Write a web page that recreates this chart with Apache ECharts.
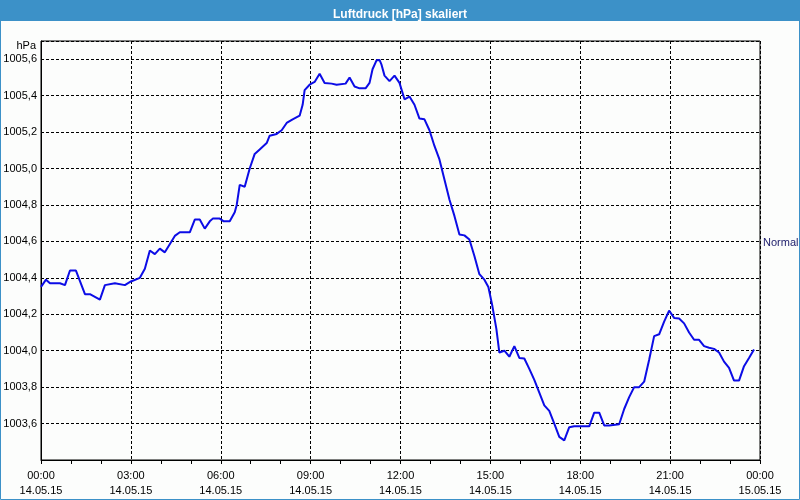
<!DOCTYPE html>
<html>
<head>
<meta charset="utf-8">
<script src="https://cdn.jsdelivr.net/npm/echarts@6/dist/echarts.min.js"></script>
<style>
html,body{margin:0;padding:0;background:#fcfdfc;}
#chart{width:800px;height:500px;}
</style>
</head>
<body>
<div id="chart"></div>
<script>
// Measurement times (14.05.15) and air pressure values in hPa
var times = ['00:00','00:10','00:18','00:38','00:48','00:58','01:10','01:28','01:38','01:58',
  '02:08','02:28','02:48','03:00','03:18','03:28','03:38','03:48','03:58','04:08',
  '04:28','04:38','04:58','05:08','05:18','05:28','05:38','05:44','05:58','06:06',
  '06:18','06:28','06:32','06:38','06:48','06:58','07:08','07:18','07:32','07:38',
  '07:52','08:02','08:12','08:24','08:38','08:44','08:48','08:58','09:08','09:18',
  '09:28','09:42','09:52','10:10','10:18','10:28','10:38','10:50','10:58','11:04',
  '11:12','11:18','11:22','11:28','11:38','11:48','11:58','12:08','12:18','12:28',
  '12:38','12:48','12:58','13:08','13:18','13:28','13:38','13:48','13:58','14:08',
  '14:18','14:28','14:38','14:48','14:56','15:04','15:12','15:18','15:28','15:38',
  '15:48','15:58','16:08','16:18','16:28','16:38','16:48','16:58','17:08','17:18',
  '17:28','17:38','17:48','18:18','18:28','18:38','18:48','18:58','19:18','19:28',
  '19:38','19:48','19:58','20:08','20:18','20:28','20:38','20:48','20:58','21:08',
  '21:18','21:28','21:38','21:48','21:58','22:08','22:18','22:28','22:38','22:48',
  '22:58','23:08','23:18','23:28','23:38','23:48'];
var pressure = [1004.35,1004.39,1004.37,1004.37,1004.36,1004.44,1004.44,1004.31,1004.31,1004.28,
  1004.36,1004.37,1004.36,1004.38,1004.40,1004.45,1004.55,1004.53,1004.56,1004.54,
  1004.63,1004.65,1004.65,1004.72,1004.72,1004.67,1004.71,1004.725,1004.725,1004.71,
  1004.71,1004.76,1004.80,1004.91,1004.90,1005.00,1005.08,1005.105,1005.14,1005.18,
  1005.19,1005.21,1005.25,1005.27,1005.29,1005.35,1005.43,1005.46,1005.475,1005.52,
  1005.47,1005.466,1005.46,1005.466,1005.50,1005.45,1005.44,1005.44,1005.47,1005.545,
  1005.594,1005.596,1005.57,1005.51,1005.48,1005.51,1005.47,1005.38,1005.395,1005.35,
  1005.274,1005.27,1005.21,1005.124,1005.05,1004.94,1004.83,1004.74,1004.638,1004.633,
  1004.61,1004.52,1004.42,1004.39,1004.35,1004.245,1004.12,1003.99,1004.00,1003.967,
  1004.025,1003.96,1003.957,1003.90,1003.84,1003.77,1003.70,1003.67,1003.60,1003.527,
  1003.508,1003.58,1003.585,1003.585,1003.66,1003.66,1003.59,1003.59,1003.596,1003.68,
  1003.745,1003.80,1003.80,1003.83,1003.95,1004.08,1004.09,1004.16,1004.22,1004.18,
  1004.177,1004.15,1004.10,1004.06,1004.06,1004.025,1004.016,1004.01,1003.99,1003.94,
  1003.906,1003.836,1003.836,1003.915,1003.96,1004.007];
var xTickTimes = ['00:00','03:00','06:00','09:00','12:00','15:00','18:00','21:00','00:00'];
var xTickDates = ['14.05.15','14.05.15','14.05.15','14.05.15','14.05.15','14.05.15','14.05.15','14.05.15','15.05.15'];
var normalLevel = [1004.59];
var titleText = 'Luftdruck [hPa] skaliert';

function toHours(t){var p=t.split(':');return +p[0]+(+p[1])/60;}
var seriesData = times.map(function(t,i){return [toHours(t), pressure[i]];});

var font = 'Liberation Sans';
var chart = echarts.init(document.getElementById('chart'), null, {renderer:'canvas'});
chart.setOption({
  backgroundColor:'#fcfdfc',
  animation:false,
  title:{text:titleText,left:'center',top:4,
    textStyle:{color:'#ffffff',fontSize:12,fontWeight:'bold',fontFamily:font}},
  graphic:[
    {type:'rect',z:-1,shape:{x:0,y:0,width:800,height:21},style:{fill:'#3c91c8'}},
    {type:'rect',z:-1,shape:{x:0.5,y:0.5,width:799,height:499},style:{fill:'none',stroke:'#3c91c8',lineWidth:1}}
  ],
  grid:{left:41,right:40,top:41,bottom:40,show:true,borderColor:'#000',borderWidth:1,backgroundColor:'transparent'},
  xAxis:{type:'value',min:0,max:24,interval:3,
    axisLine:{lineStyle:{color:'#000',width:1}},
    axisTick:{show:true,length:4,lineStyle:{color:'#000'}},
    minorTick:{show:true,splitNumber:3,length:4,lineStyle:{color:'#000'}},
    splitLine:{show:true,lineStyle:{color:'#000',type:[3,2],width:1}},
    axisLabel:{color:'#000',fontSize:11,fontFamily:font,margin:8,lineHeight:15,
      formatter:function(v){var i=Math.round(v/3);return xTickTimes[i]+'\n'+xTickDates[i];}}
  },
  yAxis:{type:'value',min:1003.4,max:1005.7,interval:0.2,
    name:'hPa',nameLocation:'end',nameGap:-5,
    nameTextStyle:{color:'#000',fontSize:11,fontFamily:font,align:'right',verticalAlign:'middle',padding:[0,5,0,0]},
    axisLine:{show:true,lineStyle:{color:'#000',width:1}},
    axisTick:{show:false},
    splitLine:{show:true,lineStyle:{color:'#000',type:[3,2],width:1}},
    axisLabel:{color:'#000',fontSize:11,fontFamily:font,margin:4,showMinLabel:false,showMaxLabel:false,
      formatter:function(v){if(v<1003.5||v>1005.65)return '';return v.toFixed(1).replace('.',',');}}
  },
  series:[{type:'line',data:seriesData,showSymbol:false,symbol:'none',
    lineStyle:{color:'#0c0ce6',width:2},
    markLine:{silent:true,symbol:'none',
      lineStyle:{color:'transparent',width:0},
      label:{show:true,position:'end',distance:3,formatter:'Normal',color:'#1c1c6a',fontSize:11,fontFamily:font},
      data:[{yAxis:normalLevel[0]}]}
  }]
});
</script>
</body>
</html>
